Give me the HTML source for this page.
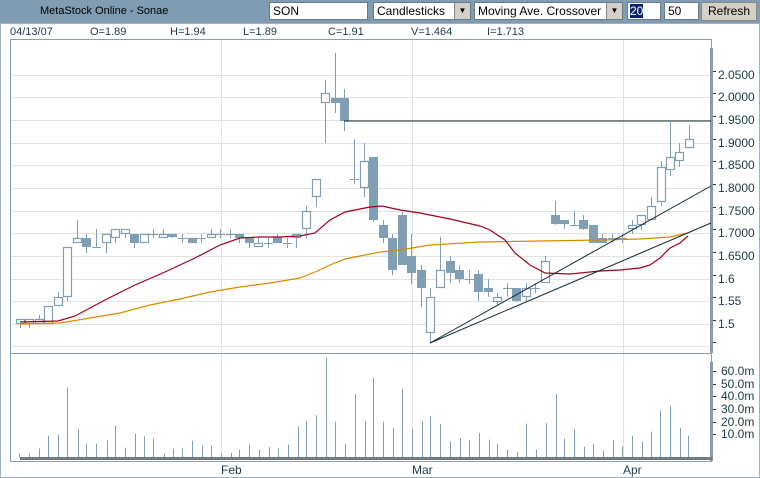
<!DOCTYPE html>
<html><head><meta charset="utf-8"><style>
*{margin:0;padding:0}
body{width:760px;height:478px;overflow:hidden;background:#fff;font-family:"Liberation Sans",sans-serif;position:relative}
.hdr{position:absolute;left:0;top:0;width:760px;height:23px;background:#7f9cb2}
.ttl{position:absolute;left:40px;top:5px;font-size:11px;color:#000}
.box{position:absolute;top:2px;height:18px;background:#fff;border:1px solid #6a7c88;box-sizing:border-box;font-size:12px;line-height:16px;padding-left:3px;color:#000}
.arr{position:absolute;right:0;top:0;width:15px;height:16px;background:#d4d0c8;border-left:1px solid #888;font-size:8px;text-align:center;line-height:16px}
.btn{position:absolute;left:701px;top:2px;width:56px;height:19px;background:#d4d0c8;border:1px solid #888;box-sizing:border-box;font-size:12px;text-align:center;line-height:17px}
.info{position:absolute;top:26px;font-family:"Liberation Sans Narrow","Liberation Sans",sans-serif;font-size:11px;color:#1a3a4a}
</style></head><body>
<div class="hdr"></div>
<div class="ttl">MetaStock Online - Sonae</div>
<div class="box" style="left:269px;width:99px">SON</div>
<div class="box" style="left:373px;width:98px">Candlesticks<div class="arr">▼</div></div>
<div class="box" style="left:474px;width:149px">Moving Ave. Crossover<div class="arr">▼</div></div>
<div class="box" style="left:627px;width:34px;padding-left:2px"><span style="background:#0a246a;color:#fff">20</span></div>
<div class="box" style="left:664px;width:35px">50</div>
<div class="btn">Refresh</div>
<div class="info" style="left:10px">04/13/07</div>
<div class="info" style="left:90px">O=1.89</div>
<div class="info" style="left:170px">H=1.94</div>
<div class="info" style="left:243px">L=1.89</div>
<div class="info" style="left:328px">C=1.91</div>
<div class="info" style="left:411px">V=1.464</div>
<div class="info" style="left:487px">I=1.713</div>
<svg id="s" width="760" height="478" style="position:absolute;left:0;top:0" xmlns="http://www.w3.org/2000/svg">
<rect x="0.5" y="23.5" width="759" height="454" fill="none" stroke="#9fb2c0"/>
<g id="grid" stroke="#e2e2e2" stroke-width="1"></g>
<rect x="10.5" y="39.5" width="701" height="422" fill="none" stroke="#8aa0b0"/>
<line x1="10" y1="353.5" x2="712" y2="353.5" stroke="#8aa0b0"/>
<rect x="710" y="48" width="3" height="305" fill="#8a9aa6"/>
<rect x="710" y="362" width="3" height="99" fill="#8a9aa6"/>
<rect x="20" y="457" width="692" height="3" fill="#707a82"/>
<g id="vol" stroke="#819fb4"></g>
<g id="c"></g>
<polyline fill="none" stroke="#d98a00" stroke-width="1.2" points="20,324 60,323 90,318 120,313 150,305 180,299 210,292 240,287 270,283 300,278 315,272 330,265 345,259 360,256 380,252 400,250 430,245 480,242 540,241 600,240 640,239 670,237 688,233"/>
<polyline fill="none" stroke="#a0001c" stroke-width="1.2" points="20,322 58,321 75,316 105,300 135,285 165,272 195,258 220,245 240,238 260,237 280,237 300,236 315,233 330,220 345,212 370,207 382,206 400,210 420,213 450,219 480,226 490,230 505,240 515,253 530,265 545,273 570,274 600,271 620,270 640,268 650,265 660,258 670,248 680,243 688,236"/>
<line x1="344" y1="121" x2="711" y2="121" stroke="#0f2a36"/>
<line x1="430" y1="343" x2="711" y2="223" stroke="#0f2a36"/>
<line x1="430" y1="343" x2="711" y2="186" stroke="#0f2a36"/>
<g font-family="Liberation Sans,sans-serif" font-size="12" fill="#1a3a4a">
<text x="718" y="79">2.0500</text><text x="718" y="101">2.0000</text><text x="718" y="124">1.9500</text><text x="718" y="147">1.9000</text><text x="718" y="169">1.8500</text><text x="718" y="192">1.8000</text><text x="718" y="215">1.7500</text><text x="718" y="237">1.7000</text><text x="718" y="260">1.6500</text><text x="718" y="283">1.6</text><text x="718" y="305">1.55</text><text x="718" y="328">1.5</text>
<text x="721" y="375">60.0m</text><text x="721" y="388">50.0m</text><text x="721" y="400">40.0m</text><text x="721" y="413">30.0m</text><text x="721" y="426">20.0m</text><text x="721" y="438">10.0m</text>
<text x="221" y="474">Feb</text><text x="412" y="474">Mar</text><text x="623" y="474">Apr</text>
</g>
<g id="ticks" stroke="#1a3a4a"></g>
</svg>
<script>
var NS="http://www.w3.org/2000/svg";
function el(p,t,a){var e=document.createElementNS(NS,t);for(var k in a)e.setAttribute(k,a[k]);document.getElementById(p).appendChild(e);}
[75,97,120,143,165,188,211,233,256,279,301,324,346].forEach(function(y){el('grid','line',{x1:11,y1:y+.5,x2:710,y2:y+.5});el('ticks','line',{x1:713,y1:y-4+.5,x2:716,y2:y-4+.5});});
[221,412,623].forEach(function(x){el('grid','line',{x1:x+.5,y1:40,x2:x+.5,y2:457});});
[371,384,396,409,422,434].forEach(function(y){el('ticks','line',{x1:713,y1:y+.5,x2:716,y2:y+.5});});
// candles: x, top, bottom, wickTop, wickBot, type(h=hollow,f=filled,c=cross)
var C=[[20,319,324,319,328,'h'],[29,319,324,319,328,'h'],[39,319,324,315,324,'h'],[48,306,324,306,324,'h'],[58,297,306,292,306,'h'],[67,247,297,247,301,'h'],[77,238,243,220,243,'h'],[86,238,247,234,253,'f'],[96,247,247,229,247,'c'],[106,234,243,234,253,'h'],[115,229,238,229,243,'h'],[125,229,234,229,238,'h'],[134,234,243,234,248,'f'],[144,234,243,234,243,'h'],[153,234,234,229,238,'c'],[163,234,238,229,238,'h'],[172,234,237,234,238,'f'],[182,238,238,234,243,'c'],[192,238,243,238,243,'f'],[201,238,238,234,243,'c'],[211,234,238,229,238,'h'],[220,234,234,229,238,'c'],[230,234,234,229,238,'c'],[239,234,238,234,243,'f'],[249,238,243,238,248,'f'],[258,243,247,238,247,'h'],[268,243,243,238,248,'c'],[277,237,243,234,243,'f'],[287,243,243,238,248,'c'],[296,234,238,234,248,'h'],[306,211,229,206,238,'h'],[316,179,197,179,207,'h'],[325,93,103,80,143,'h'],[335,98,103,53,113,'f'],[344,98,121,89,131,'f'],[354,179,179,139,184,'c'],[364,161,188,143,197,'h'],[373,157,220,157,222,'f'],[383,225,238,220,243,'f'],[392,238,270,234,275,'f'],[402,215,265,212,265,'f'],[411,256,273,234,284,'f'],[421,270,288,265,307,'f'],[430,297,333,288,343,'h'],[440,270,288,237,288,'h'],[450,261,273,256,283,'f'],[459,270,279,265,283,'f'],[469,279,279,270,284,'c'],[478,274,292,270,301,'f'],[488,288,292,279,297,'f'],[497,297,302,293,306,'h'],[507,288,288,283,297,'c'],[516,288,301,288,302,'f'],[526,288,297,283,302,'h'],[535,288,288,283,293,'c'],[545,261,283,256,283,'h'],[555,215,224,201,225,'f'],[564,220,224,220,229,'f'],[574,225,225,211,225,'c'],[583,220,229,215,230,'f'],[593,225,243,225,243,'f'],[602,238,243,234,243,'f'],[612,238,238,234,243,'c'],[622,238,238,234,243,'c'],[632,225,229,220,234,'h'],[641,215,225,215,230,'h'],[651,206,220,197,220,'h'],[661,167,202,161,206,'h'],[670,157,170,122,176,'h'],[679,152,161,143,167,'h'],[689,139,148,125,148,'h']];
C.forEach(function(c){var x=c[0],col='#819fb4';
 el('c','line',{x1:x+.5,y1:c[3],x2:x+.5,y2:c[4],stroke:col,'stroke-width':1});
 if(c[5]=='c'){el('c','line',{x1:x-4,y1:c[1]+.5,x2:x+5,y2:c[1]+.5,stroke:col});}
 else if(c[5]=='f'){el('c','rect',{x:x-4,y:c[1],width:9,height:Math.max(c[2]-c[1],3),fill:col});}
 else{el('c','rect',{x:x-3.5,y:c[1]+.5,width:8,height:Math.max(c[2]-c[1]-1,2),fill:'#fff',stroke:col,'stroke-width':1.2});}
});
var V=[[40,342],[60,342],[80,326],[100,288],[120,285],[138,144],[160,268],[178,312],[198,312],[220,303],[238,258],[258,324],[278,282],[298,290],[316,297],[338,342],[356,327],[376,327],[396,303],[416,318],[436,318],[456,340],[476,340],[494,330],[514,315],[534,330],[554,322],[574,327],[594,315],[614,260],[632,244],[652,226],[672,54],[692,246],[712,312],[732,164],[752,244],[770,115],[790,246],[810,264],[830,147],[850,268],[870,244],[888,230],[908,253],[928,305],[948,295],[968,302],[988,280],[1008,300],[1026,312],[1046,330],[1066,336],[1086,252],[1106,330],[1126,250],[1146,164],[1164,297],[1184,268],[1204,321],[1224,312],[1244,333],[1264,302],[1284,321],[1304,288],[1324,306],[1342,276],[1362,213],[1382,198],[1402,264],[1420,288]];
V.forEach(function(v){var x=Math.round(v[0]/2.063)+.5;el('vol','line',{x1:x,y1:457,x2:x,y2:457-(352-v[1])/3});});
</script>
</body></html>
